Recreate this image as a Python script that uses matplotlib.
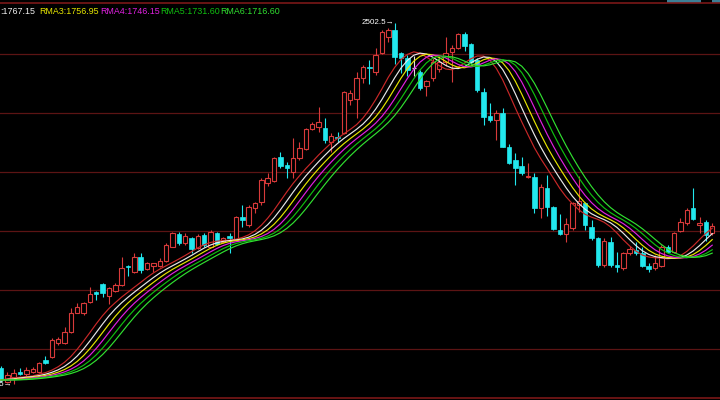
import matplotlib
matplotlib.use('Agg')
import matplotlib.pyplot as plt
from matplotlib.lines import Line2D
from matplotlib.patches import Rectangle
import numpy as np
import pandas as pd

# ---------------- data ----------------
opens = [1295, 1247, 1264.5, 1280, 1274, 1282, 1280, 1323, 1334.5, 1381.5,
         1381.5, 1422, 1488.5, 1486.5, 1527, 1560, 1588, 1548, 1565.5, 1585.5,
         1651, 1632, 1684.5, 1640.5, 1652, 1652, 1670.5, 1719.5, 1764, 1731.5,
         1749, 1714, 1760.5, 1719.5, 1766.5, 1737, 1757, 1743, 1824.5, 1795.5,
         1854, 1877, 1941.5, 1949.5, 2034.5, 2005.5, 1982, 2029, 2061.5, 2131.5,
         2139.5, 2136, 2087, 2104.5, 2116.5, 2233, 2236.5, 2309, 2349.5, 2331,
         2396.5, 2454.5, 2478, 2396.5, 2380, 2345, 2332, 2282, 2310, 2341.5,
         2367, 2402, 2414, 2463, 2428, 2373, 2262, 2177, 2163, 2188.5,
         2069.5, 2023, 2002, 1962.5, 1964.5, 1854, 1924, 1859.5, 1778, 1764,
         1784, 1865.5, 1871.5, 1787.5, 1749, 1655.5, 1737, 1655.5, 1644, 1698.5,
         1708, 1698.5, 1653, 1644, 1653, 1719.5, 1702, 1774.5, 1801.5, 1854,
         1795.5, 1805, 1766.5]
highs = [1302, 1282, 1290.5, 1294, 1297.5, 1299.5, 1317, 1337, 1399, 1404.5,
         1439.5, 1504, 1523.5, 1527, 1577.5, 1565.5, 1591.5, 1577.5, 1591.5, 1682.5,
         1656.5, 1696.5, 1696.5, 1667, 1663.5, 1679, 1731.5, 1772, 1772, 1768.5,
         1754.5, 1764, 1768.5, 1778, 1772, 1754.5, 1766.5, 1827, 1865.5, 1865.5,
         1877, 1961, 1976.5, 2034.5, 2052, 2017, 2099, 2085, 2136, 2157,
         2209.5, 2169, 2116.5, 2120, 2264.5, 2268, 2332, 2355.5, 2373, 2414,
         2478, 2484, 2502.5, 2402, 2389, 2387, 2338, 2303, 2380, 2387,
         2454.5, 2425.5, 2466.5, 2471, 2431.5, 2379, 2274, 2221.5, 2198, 2204,
         2079, 2046.5, 2034.5, 2011.5, 1976.5, 1939, 1970.5, 1862, 1834, 1819,
         1877, 1967, 1877, 1813, 1754.5, 1750, 1754.5, 1702, 1702, 1722,
         1737, 1719.5, 1661.5, 1690.5, 1725.5, 1725.5, 1772, 1819, 1854, 1924,
         1824.5, 1813, 1801.5]
lows = [1246, 1241, 1237.5, 1270.5, 1267, 1276.5, 1276.5, 1309, 1329, 1375.5,
        1379, 1416.5, 1486.5, 1480.5, 1523.5, 1533, 1544.5, 1519, 1562, 1582,
        1618, 1626.5, 1626.5, 1638, 1632, 1647.5, 1667, 1717.5, 1725.5, 1725.5,
        1698.5, 1710.5, 1719.5, 1717.5, 1725.5, 1731.5, 1698.5, 1740.5, 1789.5, 1788.5,
        1836.5, 1865.5, 1933, 1945, 1994, 1959, 1961, 2023, 2058, 2128,
        2122, 2081.5, 2052, 2085, 2113, 2215.5, 2171, 2291.5, 2289, 2320.5,
        2393, 2437, 2359, 2329, 2317, 2317, 2268, 2247, 2299.5, 2331,
        2352, 2297, 2411.5, 2404.5, 2358, 2262, 2145.5, 2157, 2093, 2067.5,
        2009, 1935.5, 1970.5, 1960, 1836.5, 1819, 1827, 1778, 1760.5, 1737,
        1778, 1842, 1778, 1743, 1649.5, 1649.5, 1649.5, 1632, 1638, 1690.5,
        1690.5, 1649.5, 1632, 1638, 1649.5, 1696.5, 1696.5, 1772, 1795.5, 1813,
        1766.5, 1740.5, 1760.5]
closes = [1253, 1270.5, 1278.5, 1274, 1288, 1290.5, 1311.5, 1311.5, 1393, 1395.5,
          1422, 1486.5, 1507.5, 1521.5, 1553, 1553, 1556.5, 1574, 1585.5, 1646,
          1647.5, 1684.5, 1638, 1661.5, 1661.5, 1670.5, 1725.5, 1766.5, 1733.5, 1757,
          1710.5, 1757, 1725.5, 1770, 1729, 1749, 1750, 1824.5, 1813, 1859.5,
          1871.5, 1953, 1961, 2029, 2003, 1996, 2029, 2064, 2131.5, 2149,
          2155, 2093, 2108, 2099, 2262, 2258.5, 2309, 2349.5, 2344, 2390.5,
          2472, 2478, 2384.5, 2379, 2338, 2345, 2274, 2298, 2366, 2366,
          2396.5, 2414, 2463, 2423, 2367, 2268, 2174.5, 2163, 2188.5, 2069.5,
          2013.5, 1994, 1978.5, 1967, 1854, 1927.5, 1859.5, 1780.5, 1764, 1798,
          1871.5, 1880.5, 1795.5, 1749, 1655.5, 1739.5, 1655.5, 1649.5, 1696.5, 1710.5,
          1696.5, 1652, 1641.5, 1661.5, 1717.5, 1702, 1766.5, 1807, 1848, 1815.5,
          1803.5, 1760.5, 1792]

legend_labels = [':1767.15', 'RMA3:1756.95', 'RMA4:1746.15', 'RMA5:1731.60', 'RMA6:1716.60']
grid_levels = [1361.5, 1568.0, 1774.5, 1981.0, 2187.5, 2394.0]

# ---------------- styling ----------------
UP = '#d83a3a'
DOWN = '#22e8ee'
MA_COLORS = ['#c82828', '#e8e8e8', '#e6e600', '#e020e0', '#10c010', '#30e030']
LEGEND_COLORS = ['#f0f0f0', '#e6e600', '#e020e0', '#10c010', '#30e030']
LEGEND_X = [0, 39, 100, 160, 220]
FONT = ['Liberation Sans', 'DejaVu Sans']

o = np.array(opens, float)
h = np.array(highs, float)
l = np.array(lows, float)
c = np.array(closes, float)
n = len(c)
x = np.arange(n)

# rainbow moving averages derived from the closes
s = pd.Series(c)
r = s.rolling(5, min_periods=1).mean().rolling(6, min_periods=1).mean()
rmas = [r]
for _ in range(5):
    rmas.append(rmas[-1].rolling(3, min_periods=1).mean())

fig = plt.figure(figsize=(7.2, 4.0), dpi=100, facecolor='black')
ax = fig.add_axes([0, 0, 1, 1])
ax.set_facecolor('black')
ax.set_xlim(-1 / 6.35, 719 / 6.35)
ax.set_ylim(1183, 2583)
ax.set_axis_off()

for g in grid_levels:
    ax.axhline(g, color='#5c1414', lw=0.9, zorder=1)

# frame lines
fig.add_artist(Line2D([0, 1], [1 - 3 / 400, 1 - 3 / 400], color='#7a1818', lw=1.2))
fig.add_artist(Line2D([0, 1], [2 / 400, 2 / 400], color='#7a1818', lw=1.2))
fig.add_artist(Rectangle((667 / 720, 397.5 / 400), 34 / 720, 2.5 / 400, color='#3d7f96', lw=0))
fig.add_artist(Rectangle((712 / 720, 397.5 / 400), 8 / 720, 2.5 / 400, color='#3d7f96', lw=0))

w = 0.7
for i in range(n):
    top, bot = max(o[i], c[i]), min(o[i], c[i])
    if c[i] > o[i]:
        ax.vlines(i, top, h[i], color=UP, lw=0.8, zorder=2)
        ax.vlines(i, l[i], bot, color=UP, lw=0.8, zorder=2)
        ax.add_patch(Rectangle((i - w / 2, bot), w, top - bot, facecolor='black',
                               edgecolor=UP, lw=0.8, zorder=2))
    elif c[i] < o[i]:
        ax.vlines(i, l[i], h[i], color=DOWN, lw=0.8, zorder=2)
        ax.add_patch(Rectangle((i - w / 2, bot), w, top - bot, facecolor=DOWN,
                               edgecolor=DOWN, lw=0.5, zorder=2))
    else:
        ax.vlines(i, l[i], h[i], color='#e0e0e0', lw=0.8, zorder=2)
        ax.hlines(o[i], i - w / 2, i + w / 2, color='#e0e0e0', lw=0.9, zorder=2)

for ma, col in zip(rmas, MA_COLORS):
    ax.plot(x, ma.values, color=col, lw=0.85, zorder=3)

# extreme labels
ih = int(np.argmax(h))
ax.text(ih - 0.15, h[ih], f'{h[ih]:.1f}\u2192', color='white', ha='right', va='center',
        fontsize=5.8, family=FONT, zorder=4)
il = int(np.argmin(l))
ax.text(il - 0.25, l[il], f'{l[il]:.1f}\u2192', color='white', ha='right', va='center',
        fontsize=5.8, family=FONT, zorder=4)

for lab, col, px in zip(legend_labels, LEGEND_COLORS, LEGEND_X):
    fig.text(px / 720, 1 - 11 / 400, lab, color=col, ha='left', va='center',
             fontsize=6.4, family=FONT)

fig.savefig('out.png', dpi=100, facecolor='black')
